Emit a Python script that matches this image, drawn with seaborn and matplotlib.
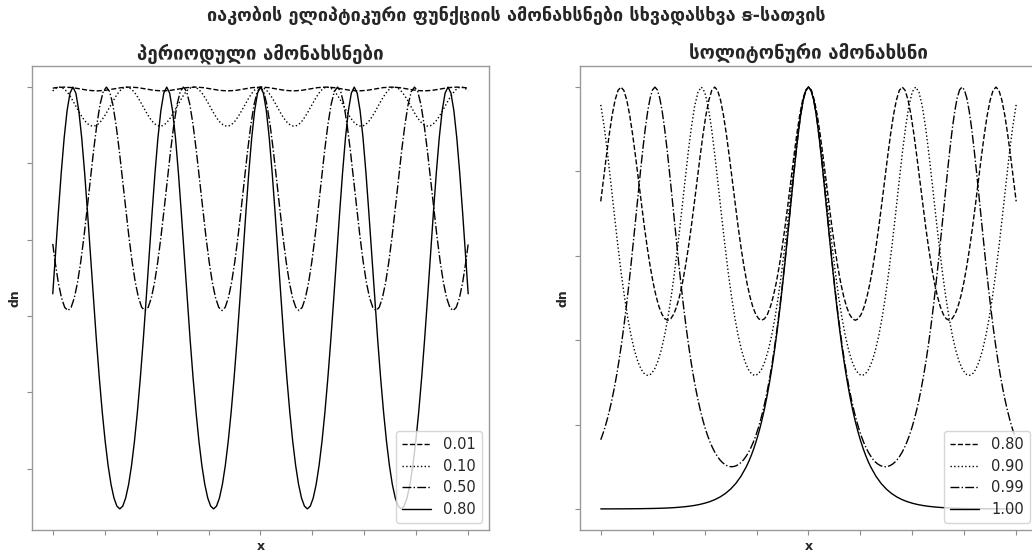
import matplotlib
matplotlib.use("Agg")
import matplotlib.pyplot as plt
import seaborn as sns

# dn(x) values, left panel (periodic) and right panel (soliton)
X_M001 = [
    -10.0, -9.8422, -9.4485, -9.0548, -8.6611, -8.2674, -7.8738, -7.4801, -7.0864,
    -6.6927, -6.2990, -5.9053, -5.5116, -5.1179, -4.7243, -4.3306, -3.9369, -3.5432,
    -3.1495, -2.7558, -2.3621, -1.9684, -1.5748, -1.1811, -0.7874, -0.3937, 0.0,
    0.3937, 0.7874, 1.1811, 1.5748, 1.9684, 2.3621, 2.7558, 3.1495, 3.5432, 3.9369,
    4.3306, 4.7243, 5.1179, 5.5116, 5.9053, 6.2990, 6.6927, 7.0864, 7.4801, 7.8738,
    8.2674, 8.6611, 9.0548, 9.4485, 9.8422, 10.0]
Y_M001 = [
    0.9986, 0.9993, 1.0, 0.9993, 0.9975, 0.9957, 0.9950, 0.9957, 0.9975,
    0.9993, 1.0, 0.9993, 0.9975, 0.9957, 0.9950, 0.9957, 0.9975, 0.9993,
    1.0, 0.9993, 0.9975, 0.9957, 0.9950, 0.9957, 0.9975, 0.9993, 1.0,
    0.9993, 0.9975, 0.9957, 0.9950, 0.9957, 0.9975, 0.9993, 1.0, 0.9993, 0.9975,
    0.9957, 0.9950, 0.9957, 0.9975, 0.9993, 1.0, 0.9993, 0.9975, 0.9957, 0.9950,
    0.9957, 0.9975, 0.9993, 1.0, 0.9993, 0.9986]

X_M010 = [
    -10.0, -9.9434, -9.8090, -9.6746, -9.5403, -9.4059, -9.2715, -9.1372, -9.0028, -8.8684,
    -8.7341, -8.5997, -8.4653, -8.3309, -8.1966, -8.0622, -7.9278, -7.7935, -7.6591, -7.5247,
    -7.3904, -7.2560, -7.1216, -6.9872, -6.8529, -6.7185, -6.5841, -6.4498, -6.3154, -6.1810,
    -6.0467, -5.9123, -5.7779, -5.6435, -5.5092, -5.3748, -5.2404, -5.1061, -4.9717, -4.8373,
    -4.7030, -4.5686, -4.4342, -4.2998, -4.1655, -4.0311, -3.8967, -3.7624, -3.6280, -3.4936,
    -3.3593, -3.2249, -3.0905, -2.9561, -2.8218, -2.6874, -2.5530, -2.4187, -2.2843, -2.1499,
    -2.0156, -1.8812, -1.7468, -1.6124, -1.4781, -1.3437, -1.2093, -1.0750, -0.9406, -0.8062,
    -0.6719, -0.5375, -0.4031, -0.2687, -0.1344, 0.0,
    0.1344, 0.2687, 0.4031, 0.5375, 0.6719, 0.8062, 0.9406, 1.0750, 1.2093, 1.3437,
    1.4781, 1.6124, 1.7468, 1.8812, 2.0156, 2.1499, 2.2843, 2.4187, 2.5530, 2.6874,
    2.8218, 2.9561, 3.0905, 3.2249, 3.3593, 3.4936, 3.6280, 3.7624, 3.8967, 4.0311,
    4.1655, 4.2998, 4.4342, 4.5686, 4.7030, 4.8373, 4.9717, 5.1061, 5.2404, 5.3748,
    5.5092, 5.6435, 5.7779, 5.9123, 6.0467, 6.1810, 6.3154, 6.4498, 6.5841, 6.7185,
    6.8529, 6.9872, 7.1216, 7.2560, 7.3904, 7.5247, 7.6591, 7.7935, 7.9278, 8.0622,
    8.1966, 8.3309, 8.4653, 8.5997, 8.7341, 8.8684, 9.0028, 9.1372, 9.2715, 9.4059,
    9.5403, 9.6746, 9.8090, 9.9434, 10.0]
Y_M010 = [
    0.9949, 0.9965, 0.9991,
    1.0, 0.9991, 0.9965, 0.9923, 0.9869, 0.9807, 0.9740, 0.9674, 0.9613, 0.9560, 0.9521, 0.9496,
    0.9487, 0.9496, 0.9521, 0.9560, 0.9613, 0.9674, 0.9740, 0.9807, 0.9869, 0.9923, 0.9965, 0.9991,
    1.0, 0.9991, 0.9965, 0.9923, 0.9869, 0.9807, 0.9740, 0.9674, 0.9613, 0.9560, 0.9521, 0.9496,
    0.9487, 0.9496, 0.9521, 0.9560, 0.9613, 0.9674, 0.9740, 0.9807, 0.9869, 0.9923, 0.9965, 0.9991,
    1.0, 0.9991, 0.9965, 0.9923, 0.9869, 0.9807, 0.9740, 0.9674, 0.9613, 0.9560, 0.9521, 0.9496,
    0.9487, 0.9496, 0.9521, 0.9560, 0.9613, 0.9674, 0.9740, 0.9807, 0.9869, 0.9923, 0.9965, 0.9991,
    1.0,
    0.9991, 0.9965, 0.9923, 0.9869, 0.9807, 0.9740, 0.9674, 0.9613, 0.9560, 0.9521, 0.9496, 0.9487,
    0.9496, 0.9521, 0.9560, 0.9613, 0.9674, 0.9740, 0.9807, 0.9869, 0.9923, 0.9965, 0.9991, 1.0,
    0.9991, 0.9965, 0.9923, 0.9869, 0.9807, 0.9740, 0.9674, 0.9613, 0.9560, 0.9521, 0.9496, 0.9487,
    0.9496, 0.9521, 0.9560, 0.9613, 0.9674, 0.9740, 0.9807, 0.9869, 0.9923, 0.9965, 0.9991, 1.0,
    0.9991, 0.9965, 0.9923, 0.9869, 0.9807, 0.9740, 0.9674, 0.9613, 0.9560, 0.9521, 0.9496, 0.9487,
    0.9496, 0.9521, 0.9560, 0.9613, 0.9674, 0.9740, 0.9807, 0.9869, 0.9923, 0.9965, 0.9991, 1.0,
    0.9991, 0.9965, 0.9949]

X_M050 = [
    -10.0, -9.8884, -9.7339, -9.5794, -9.4249, -9.2704, -9.1159, -8.9613, -8.8068, -8.6523,
    -8.4978, -8.3433, -8.1888, -8.0343, -7.8798, -7.7253, -7.5708, -7.4163, -7.2618, -7.1073,
    -6.9528, -6.7983, -6.6438, -6.4893, -6.3347, -6.1802, -6.0257, -5.8712, -5.7167, -5.5622,
    -5.4077, -5.2532, -5.0987, -4.9442, -4.7897, -4.6352, -4.4807, -4.3262, -4.1717, -4.0172,
    -3.8627, -3.7081, -3.5536, -3.3991, -3.2446, -3.0901, -2.9356, -2.7811, -2.6266, -2.4721,
    -2.3176, -2.1631, -2.0086, -1.8541, -1.6996, -1.5451, -1.3906, -1.2360, -1.0815, -0.9270,
    -0.7725, -0.6180, -0.4635, -0.3090, -0.1545, 0.0,
    0.1545, 0.3090, 0.4635, 0.6180, 0.7725, 0.9270, 1.0815, 1.2360, 1.3906, 1.5451,
    1.6996, 1.8541, 2.0086, 2.1631, 2.3176, 2.4721, 2.6266, 2.7811, 2.9356, 3.0901,
    3.2446, 3.3991, 3.5536, 3.7081, 3.8627, 4.0172, 4.1717, 4.3262, 4.4807, 4.6352,
    4.7897, 4.9442, 5.0987, 5.2532, 5.4077, 5.5622, 5.7167, 5.8712, 6.0257, 6.1802,
    6.3347, 6.4893, 6.6438, 6.7983, 6.9528, 7.1073, 7.2618, 7.4163, 7.5708, 7.7253,
    7.8798, 8.0343, 8.1888, 8.3433, 8.4978, 8.6523, 8.8068, 8.9613, 9.1159, 9.2704,
    9.4249, 9.5794, 9.7339, 9.8884, 10.0]
Y_M050 = [
    0.7945,
    0.7712, 0.7440, 0.7238, 0.7113, 0.7071, 0.7113, 0.7238, 0.7440, 0.7712, 0.8041, 0.8409, 0.8794,
    0.9169, 0.9504, 0.9770, 0.9941,
    1.0, 0.9941, 0.9770, 0.9504, 0.9169, 0.8794, 0.8409, 0.8041, 0.7712, 0.7440, 0.7238, 0.7113,
    0.7071, 0.7113, 0.7238, 0.7440, 0.7712, 0.8041, 0.8409, 0.8794, 0.9169, 0.9504, 0.9770, 0.9941,
    1.0, 0.9941, 0.9770, 0.9504, 0.9169, 0.8794, 0.8409, 0.8041, 0.7712, 0.7440, 0.7238, 0.7113,
    0.7071, 0.7113, 0.7238, 0.7440, 0.7712, 0.8041, 0.8409, 0.8794, 0.9169, 0.9504, 0.9770, 0.9941,
    1.0,
    0.9941, 0.9770, 0.9504, 0.9169, 0.8794, 0.8409, 0.8041, 0.7712, 0.7440, 0.7238, 0.7113, 0.7071,
    0.7113, 0.7238, 0.7440, 0.7712, 0.8041, 0.8409, 0.8794, 0.9169, 0.9504, 0.9770, 0.9941, 1.0,
    0.9941, 0.9770, 0.9504, 0.9169, 0.8794, 0.8409, 0.8041, 0.7712, 0.7440, 0.7238, 0.7113, 0.7071,
    0.7113, 0.7238, 0.7440, 0.7712, 0.8041, 0.8409, 0.8794, 0.9169, 0.9504, 0.9770, 0.9941, 1.0,
    0.9941, 0.9770, 0.9504, 0.9169, 0.8794, 0.8409, 0.8041, 0.7712, 0.7440, 0.7238, 0.7113, 0.7071,
    0.7113, 0.7238, 0.7440, 0.7712,
    0.7945]

X_M080 = [
    -10.0, -9.8753, -9.7342, -9.5931, -9.4521, -9.3110, -9.1699, -9.0288, -8.8878, -8.7467,
    -8.6056, -8.4645, -8.3235, -8.1824, -8.0413, -7.9002, -7.7592, -7.6181, -7.4770, -7.3359,
    -7.1949, -7.0538, -6.9127, -6.7716, -6.6306, -6.4895, -6.3484, -6.2073, -6.0663, -5.9252,
    -5.7841, -5.6430, -5.5019, -5.3609, -5.2198, -5.0787, -4.9376, -4.7966, -4.6555, -4.5144,
    -4.3733, -4.2323, -4.0912, -3.9501, -3.8090, -3.6680, -3.5269, -3.3858, -3.2447, -3.1037,
    -2.9626, -2.8215, -2.6804, -2.5394, -2.3983, -2.2572, -2.1161, -1.9751, -1.8340, -1.6929,
    -1.5518, -1.4108, -1.2697, -1.1286, -0.9875, -0.8465, -0.7054, -0.5643, -0.4232, -0.2822,
    -0.1411, 0.0,
    0.1411, 0.2822, 0.4232, 0.5643, 0.7054, 0.8465, 0.9875, 1.1286, 1.2697, 1.4108,
    1.5518, 1.6929, 1.8340, 1.9751, 2.1161, 2.2572, 2.3983, 2.5394, 2.6804, 2.8215,
    2.9626, 3.1037, 3.2447, 3.3858, 3.5269, 3.6680, 3.8090, 3.9501, 4.0912, 4.2323,
    4.3733, 4.5144, 4.6555, 4.7966, 4.9376, 5.0787, 5.2198, 5.3609, 5.5019, 5.6430,
    5.7841, 5.9252, 6.0663, 6.2073, 6.3484, 6.4895, 6.6306, 6.7716, 6.9127, 7.0538,
    7.1949, 7.3359, 7.4770, 7.6181, 7.7592, 7.9002, 8.0413, 8.1824, 8.3235, 8.4645,
    8.6056, 8.7467, 8.8878, 9.0288, 9.1699, 9.3110, 9.4521, 9.5931, 9.7342, 9.8753, 10.0]
Y_M080 = [
    0.7291,
    0.7787, 0.8346, 0.8872, 0.9332, 0.9690, 0.9921,
    1.0, 0.9921, 0.9690, 0.9332, 0.8872, 0.8346, 0.7787, 0.7226, 0.6687, 0.6189, 0.5743, 0.5359,
    0.5041, 0.4792, 0.4615, 0.4508, 0.4472, 0.4508, 0.4615, 0.4792, 0.5041, 0.5359, 0.5743, 0.6189,
    0.6687, 0.7226, 0.7787, 0.8346, 0.8872, 0.9332, 0.9690, 0.9921,
    1.0, 0.9921, 0.9690, 0.9332, 0.8872, 0.8346, 0.7787, 0.7226, 0.6687, 0.6189, 0.5743, 0.5359,
    0.5041, 0.4792, 0.4615, 0.4508, 0.4472, 0.4508, 0.4615, 0.4792, 0.5041, 0.5359, 0.5743, 0.6189,
    0.6687, 0.7226, 0.7787, 0.8346, 0.8872, 0.9332, 0.9690, 0.9921,
    1.0,
    0.9921, 0.9690, 0.9332, 0.8872, 0.8346, 0.7787, 0.7226, 0.6687, 0.6189, 0.5743, 0.5359, 0.5041,
    0.4792, 0.4615, 0.4508, 0.4472, 0.4508, 0.4615, 0.4792, 0.5041, 0.5359, 0.5743, 0.6189, 0.6687,
    0.7226, 0.7787, 0.8346, 0.8872, 0.9332, 0.9690, 0.9921, 1.0,
    0.9921, 0.9690, 0.9332, 0.8872, 0.8346, 0.7787, 0.7226, 0.6687, 0.6189, 0.5743, 0.5359, 0.5041,
    0.4792, 0.4615, 0.4508, 0.4472, 0.4508, 0.4615, 0.4792, 0.5041, 0.5359, 0.5743, 0.6189, 0.6687,
    0.7226, 0.7787, 0.8346, 0.8872, 0.9332, 0.9690, 0.9921, 1.0,
    0.9921, 0.9690, 0.9332, 0.8872, 0.8346, 0.7787,
    0.7291]

X_M090 = [
    -10.0, -9.9901, -9.8290, -9.6678, -9.5067, -9.3456, -9.1845, -9.0233, -8.8622, -8.7011,
    -8.5399, -8.3788, -8.2177, -8.0565, -7.8954, -7.7343, -7.5731, -7.4120, -7.2509, -7.0897,
    -6.9286, -6.7675, -6.6064, -6.4452, -6.2841, -6.1230, -5.9618, -5.8007, -5.6396, -5.4784,
    -5.3173, -5.1562, -4.9950, -4.8339, -4.6728, -4.5117, -4.3505, -4.1894, -4.0283, -3.8671,
    -3.7060, -3.5449, -3.3837, -3.2226, -3.0615, -2.9003, -2.7392, -2.5781, -2.4170, -2.2558,
    -2.0947, -1.9336, -1.7724, -1.6113, -1.4502, -1.2890, -1.1279, -0.9668, -0.8057, -0.6445,
    -0.4834, -0.3223, -0.1611, 0.0,
    0.1611, 0.3223, 0.4834, 0.6445, 0.8057, 0.9668, 1.1279, 1.2890, 1.4502, 1.6113,
    1.7724, 1.9336, 2.0947, 2.2558, 2.4170, 2.5781, 2.7392, 2.9003, 3.0615, 3.2226,
    3.3837, 3.5449, 3.7060, 3.8671, 4.0283, 4.1894, 4.3505, 4.5117, 4.6728, 4.8339,
    4.9950, 5.1562, 5.3173, 5.4784, 5.6396, 5.8007, 5.9618, 6.1230, 6.2841, 6.4452,
    6.6064, 6.7675, 6.9286, 7.0897, 7.2509, 7.4120, 7.5731, 7.7343, 7.8954, 8.0565,
    8.2177, 8.3788, 8.5399, 8.7011, 8.8622, 9.0233, 9.1845, 9.3456, 9.5067, 9.6678,
    9.8290, 9.9901, 10.0]
Y_M090 = [
    0.9578,
    0.9552, 0.9041, 0.8404, 0.7699, 0.6976, 0.6275, 0.5623, 0.5040, 0.4533, 0.4107, 0.3763, 0.3498,
    0.3311, 0.3199, 0.3162, 0.3199, 0.3311, 0.3498, 0.3763, 0.4107, 0.4533, 0.5040, 0.5623, 0.6275,
    0.6976, 0.7699, 0.8404, 0.9041, 0.9552, 0.9884,
    1.0, 0.9884, 0.9552, 0.9041, 0.8404, 0.7699, 0.6976, 0.6275, 0.5623, 0.5040, 0.4533, 0.4107,
    0.3763, 0.3498, 0.3311, 0.3199, 0.3162, 0.3199, 0.3311, 0.3498, 0.3763, 0.4107, 0.4533, 0.5040,
    0.5623, 0.6275, 0.6976, 0.7699, 0.8404, 0.9041, 0.9552, 0.9884,
    1.0,
    0.9884, 0.9552, 0.9041, 0.8404, 0.7699, 0.6976, 0.6275, 0.5623, 0.5040, 0.4533, 0.4107, 0.3763,
    0.3498, 0.3311, 0.3199, 0.3162, 0.3199, 0.3311, 0.3498, 0.3763, 0.4107, 0.4533, 0.5040, 0.5623,
    0.6275, 0.6976, 0.7699, 0.8404, 0.9041, 0.9552, 0.9884, 1.0,
    0.9884, 0.9552, 0.9041, 0.8404, 0.7699, 0.6976, 0.6275, 0.5623, 0.5040, 0.4533, 0.4107, 0.3763,
    0.3498, 0.3311, 0.3199, 0.3162, 0.3199, 0.3311, 0.3498, 0.3763, 0.4107, 0.4533, 0.5040, 0.5623,
    0.6275, 0.6976, 0.7699, 0.8404, 0.9041, 0.9552,
    0.9578]

X_M099 = [
    -10.0, -9.9320, -9.8165, -9.7011, -9.5856, -9.4701, -9.3546, -9.2391, -9.1236, -9.0081,
    -8.8926, -8.7771, -8.6617, -8.5462, -8.4307, -8.3152, -8.1997, -8.0842, -7.9687, -7.8532,
    -7.7377, -7.6223, -7.5068, -7.3913, -7.2758, -7.1603, -7.0448, -6.9293, -6.8138, -6.6983,
    -6.5829, -6.4674, -6.3519, -6.2364, -6.1209, -6.0054, -5.8899, -5.7744, -5.6589, -5.5435,
    -5.4280, -5.3125, -5.1970, -5.0815, -4.9660, -4.8505, -4.7350, -4.6196, -4.5041, -4.3886,
    -4.2731, -4.1576, -4.0421, -3.9266, -3.8111, -3.6956, -3.5802, -3.4647, -3.3492, -3.2337,
    -3.1182, -3.0027, -2.8872, -2.7717, -2.6562, -2.5408, -2.4253, -2.3098, -2.1943, -2.0788,
    -1.9633, -1.8478, -1.7323, -1.6168, -1.5014, -1.3859, -1.2704, -1.1549, -1.0394, -0.9239,
    -0.8084, -0.6929, -0.5774, -0.4620, -0.3465, -0.2310, -0.1155, 0.0,
    0.1155, 0.2310, 0.3465, 0.4620, 0.5774, 0.6929, 0.8084, 0.9239, 1.0394, 1.1549,
    1.2704, 1.3859, 1.5014, 1.6168, 1.7323, 1.8478, 1.9633, 2.0788, 2.1943, 2.3098,
    2.4253, 2.5408, 2.6562, 2.7717, 2.8872, 3.0027, 3.1182, 3.2337, 3.3492, 3.4647,
    3.5802, 3.6956, 3.8111, 3.9266, 4.0421, 4.1576, 4.2731, 4.3886, 4.5041, 4.6196,
    4.7350, 4.8505, 4.9660, 5.0815, 5.1970, 5.3125, 5.4280, 5.5435, 5.6589, 5.7744,
    5.8899, 6.0054, 6.1209, 6.2364, 6.3519, 6.4674, 6.5829, 6.6983, 6.8138, 6.9293,
    7.0448, 7.1603, 7.2758, 7.3913, 7.5068, 7.6223, 7.7377, 7.8532, 7.9687, 8.0842,
    8.1997, 8.3152, 8.4307, 8.5462, 8.6617, 8.7771, 8.8926, 9.0081, 9.1236, 9.2391,
    9.3546, 9.4701, 9.5856, 9.7011, 9.8165, 9.9320, 10.0]
Y_M099 = [
    0.1640,
    0.1731, 0.1903, 0.2099, 0.2321, 0.2571, 0.2850, 0.3162, 0.3508, 0.3890, 0.4309, 0.4763,
    0.5254, 0.5776, 0.6324, 0.6889, 0.7460, 0.8021, 0.8551, 0.9030, 0.9434, 0.9742, 0.9934,
    1.0, 0.9934, 0.9742, 0.9434, 0.9030, 0.8551, 0.8021, 0.7460, 0.6889, 0.6324, 0.5776,
    0.5254, 0.4763, 0.4309, 0.3890, 0.3508, 0.3162, 0.2850, 0.2571, 0.2321, 0.2099, 0.1903,
    0.1731, 0.1581, 0.1452, 0.1340, 0.1247, 0.1169, 0.1107, 0.1060, 0.1027, 0.1007, 0.1000,
    0.1007, 0.1027, 0.1060, 0.1107, 0.1169, 0.1247, 0.1340, 0.1452, 0.1581, 0.1731, 0.1903,
    0.2099, 0.2321, 0.2571, 0.2850, 0.3162, 0.3508, 0.3890, 0.4309, 0.4763, 0.5254, 0.5776,
    0.6324, 0.6889, 0.7460, 0.8021, 0.8551, 0.9030, 0.9434, 0.9742, 0.9934,
    1.0,
    0.9934, 0.9742, 0.9434, 0.9030, 0.8551, 0.8021, 0.7460, 0.6889, 0.6324, 0.5776, 0.5254,
    0.4763, 0.4309, 0.3890, 0.3508, 0.3162, 0.2850, 0.2571, 0.2321, 0.2099, 0.1903, 0.1731,
    0.1581, 0.1452, 0.1340, 0.1247, 0.1169, 0.1107, 0.1060, 0.1027, 0.1007, 0.1000, 0.1007,
    0.1027, 0.1060, 0.1107, 0.1169, 0.1247, 0.1340, 0.1452, 0.1581, 0.1731, 0.1903, 0.2099,
    0.2321, 0.2571, 0.2850, 0.3162, 0.3508, 0.3890, 0.4309, 0.4763, 0.5254, 0.5776, 0.6324,
    0.6889, 0.7460, 0.8021, 0.8551, 0.9030, 0.9434, 0.9742, 0.9934, 1.0,
    0.9934, 0.9742, 0.9434, 0.9030, 0.8551, 0.8021, 0.7460, 0.6889, 0.6324, 0.5776, 0.5254,
    0.4763, 0.4309, 0.3890, 0.3508, 0.3162, 0.2850, 0.2571, 0.2321, 0.2099, 0.1903, 0.1731,
    0.1640]

X_M100 = [
    -10.0, -9.75, -9.5, -9.25, -9.0, -8.75, -8.5, -8.25, -8.0, -7.75, -7.5, -7.25, -7.0, -6.75,
    -6.5, -6.25, -6.0, -5.75, -5.5, -5.25, -5.0, -4.75, -4.5, -4.25, -4.0, -3.75, -3.5, -3.25,
    -3.0, -2.875, -2.75, -2.625, -2.5, -2.375, -2.25, -2.125, -2.0, -1.875, -1.75, -1.625,
    -1.5, -1.375, -1.25, -1.125, -1.0, -0.875, -0.75, -0.625, -0.5, -0.375, -0.25, -0.125,
    0.0,
    0.125, 0.25, 0.375, 0.5, 0.625, 0.75, 0.875, 1.0, 1.125, 1.25, 1.375, 1.5,
    1.625, 1.75, 1.875, 2.0, 2.125, 2.25, 2.375, 2.5, 2.625, 2.75, 2.875, 3.0,
    3.25, 3.5, 3.75, 4.0, 4.25, 4.5, 4.75, 5.0, 5.25, 5.5, 5.75, 6.0, 6.25, 6.5,
    6.75, 7.0, 7.25, 7.5, 7.75, 8.0, 8.25, 8.5, 8.75, 9.0, 9.25, 9.5, 9.75, 10.0]
Y_M100 = [
    0.0001, 0.0001, 0.0001, 0.0002, 0.0002, 0.0003, 0.0004, 0.0005, 0.0007, 0.0009, 0.0011, 0.0014,
    0.0018, 0.0023, 0.0030, 0.0039, 0.0050, 0.0064, 0.0082, 0.0105, 0.0135, 0.0173, 0.0222, 0.0285,
    0.0366, 0.0470, 0.0603, 0.0774,
    0.0993, 0.1125, 0.1273, 0.1441, 0.1631, 0.1844, 0.2085, 0.2355, 0.2658, 0.2997, 0.3374, 0.3791,
    0.4251, 0.4753, 0.5295, 0.5874, 0.6481, 0.7103, 0.7724, 0.8321, 0.8868, 0.9336, 0.9695, 0.9922,
    1.0,
    0.9922, 0.9695, 0.9336, 0.8868, 0.8321, 0.7724, 0.7103, 0.6481, 0.5874, 0.5295, 0.4753, 0.4251,
    0.3791, 0.3374, 0.2997, 0.2658, 0.2355, 0.2085, 0.1844, 0.1631, 0.1441, 0.1273, 0.1125, 0.0993,
    0.0774, 0.0603, 0.0470, 0.0366, 0.0285, 0.0222, 0.0173, 0.0135, 0.0105, 0.0082, 0.0064, 0.0050,
    0.0039, 0.0030, 0.0023, 0.0018, 0.0014, 0.0011, 0.0009, 0.0007, 0.0005, 0.0004, 0.0003, 0.0002,
    0.0002, 0.0001, 0.0001, 0.0001]

LEFT_CURVES = [("0.01", X_M001, Y_M001, "--"), ("0.10", X_M010, Y_M010, ":"),
               ("0.50", X_M050, Y_M050, "-."), ("0.80", X_M080, Y_M080, "-")]
RIGHT_CURVES = [("0.80", X_M080, Y_M080, "--"), ("0.90", X_M090, Y_M090, ":"),
                ("0.99", X_M099, Y_M099, "-."), ("1.00", X_M100, Y_M100, "-")]

SUPTITLE = "იაკობის ელიპტიკური ფუნქციის ამონახსნები სხვადასხვა ꞩ-სათვის"
LEFT_TITLE = "პერიოდული ამონახსნები"
RIGHT_TITLE = "სოლიტონური ამონახსნი"

X_TICKS = [-10, -7.5, -5, -2.5, 0, 2.5, 5, 7.5, 10]
LEFT_YTICKS = [0.5, 0.6, 0.7, 0.8, 0.9, 1.0]
RIGHT_YTICKS = [0.0, 0.2, 0.4, 0.6, 0.8, 1.0]

sns.set_style("white")
plt.rcParams["font.family"] = ["DejaVu Sans"]
plt.rcParams["axes.edgecolor"] = "0.6"
plt.rcParams["axes.linewidth"] = 1.0

fig = plt.figure(figsize=(10.32, 5.56), dpi=100)
ax_l = fig.add_axes([0.031, 0.0468, 0.4428, 0.8345])
ax_r = fig.add_axes([0.562, 0.0468, 0.4428, 0.8345])

for ax, curves, title, yticks in [(ax_l, LEFT_CURVES, LEFT_TITLE, LEFT_YTICKS),
                                  (ax_r, RIGHT_CURVES, RIGHT_TITLE, RIGHT_YTICKS)]:
    for label, xs, ys, ls in curves:
        sns.lineplot(x=xs, y=ys, ax=ax, color="black", linestyle=ls,
                     linewidth=1.0, label=label, sort=False, estimator=None)
    ax.set_xticks(X_TICKS)
    ax.set_yticks(yticks)
    ax.tick_params(axis="both", direction="out", length=3.5, width=0.8,
                   color="0.55", bottom=True, left=True,
                   labelbottom=False, labelleft=False)
    ax.set_xlabel("x", fontsize=9, fontweight="bold")
    ax.set_ylabel("dn", fontsize=9, fontweight="bold")
    ax.set_title(title, fontsize=13.5, fontweight="bold", pad=5)
    ax.legend(loc="lower right", fontsize=10.5, labelspacing=0.45)

fig.suptitle(SUPTITLE, fontsize=13, fontweight="bold", y=0.973, va="center")
fig.savefig("out.png", dpi=100)
